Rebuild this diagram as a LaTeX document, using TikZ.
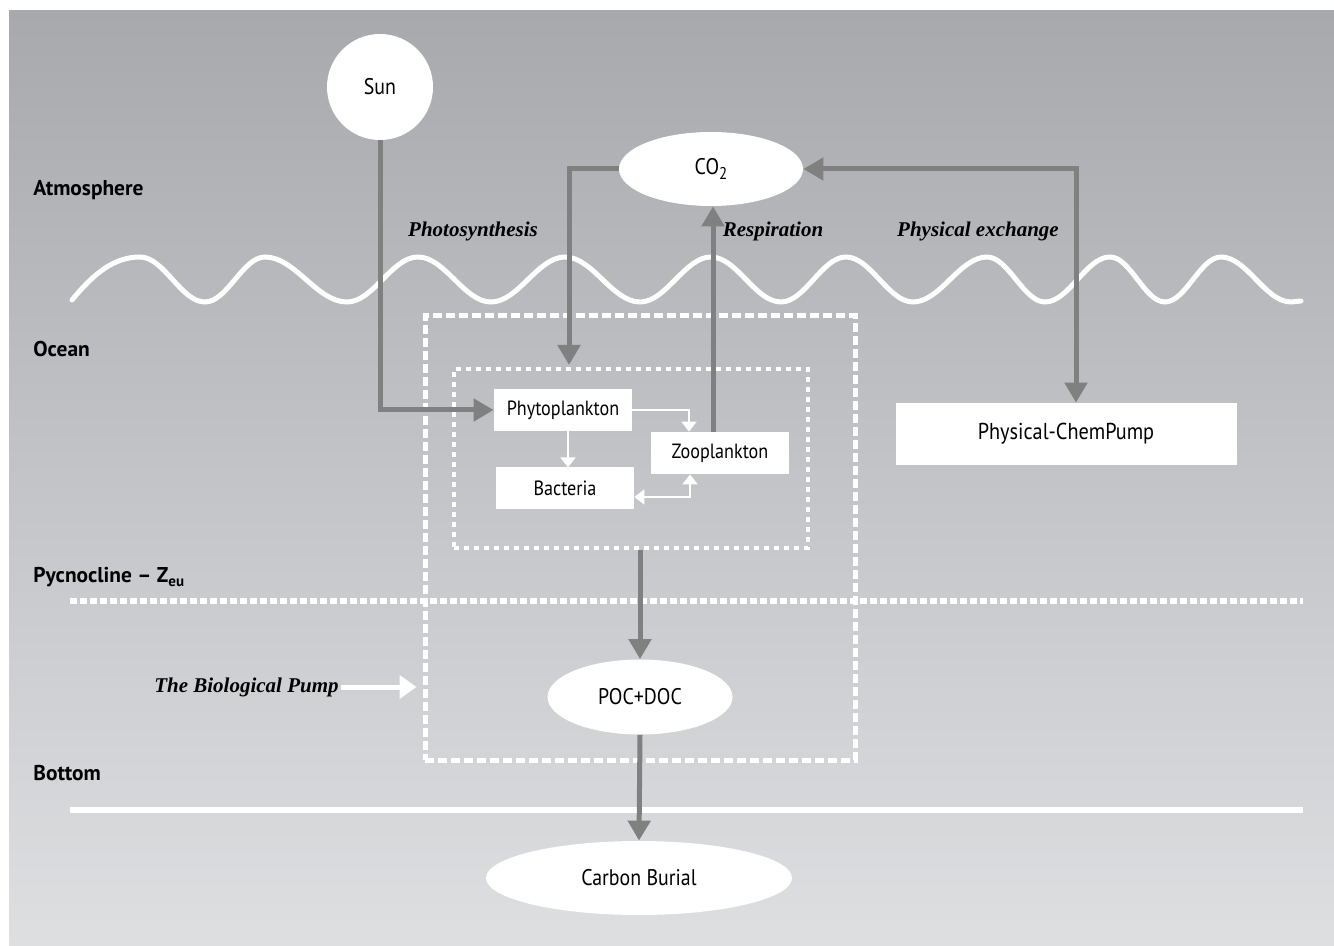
\documentclass[tikz,border=0pt]{standalone}
\usepackage{fontspec}
\newfontfamily\boxfont[FakeStretch=0.88]{PT Sans}
\newfontfamily\levelfont{PT Sans}
\newfontfamily\itfont{Liberation Serif}
\usetikzlibrary{arrows.meta,shapes.geometric,positioning}
\definecolor{pumpgray}{RGB}{128,128,128}
\definecolor{bgtop}{RGB}{168,169,173}
\definecolor{bgbot}{RGB}{222,223,225}
\tikzset{
  box/.style={fill=white, minimum width=69pt, minimum height=21pt, inner sep=0pt, font=\boxfont\fontsize{10.3}{12}\selectfont},
  oval/.style={ellipse, fill=white, minimum width=92.5pt, minimum height=37.5pt, inner sep=0pt, font=\boxfont\fontsize{11.3}{13}\selectfont},
  level/.style={anchor=west, inner sep=0pt, font=\levelfont\bfseries\fontsize{10.7}{12}\selectfont},
  process/.style={inner sep=1pt, font=\itfont\bfseries\itshape\fontsize{10.5}{12}\selectfont},
  flux/.style={draw=pumpgray, line width=2.5pt, -{Triangle[width=11pt,length=10pt]}},
  swap/.style={draw=pumpgray, line width=2.5pt, {Triangle[width=11pt,length=10pt]}-{Triangle[width=11pt,length=10pt]}},
  link/.style={draw=white, line width=1pt, -{Triangle[width=7.5pt,length=5pt]}},
  linkboth/.style={draw=white, line width=1pt, {Triangle[width=7.5pt,length=5pt]}-{Triangle[width=7.5pt,length=5pt]}},
  pumpframe/.style={draw=white, line width=2.5pt, dash pattern=on 4.5pt off 2pt},
  webframe/.style={draw=white, line width=2pt, dash pattern=on 2.5pt off 2.5pt},
}
\begin{document}
\begin{tikzpicture}[x=0.5pt,y=-0.5pt]
    \useasboundingbox (0,0) rectangle (1334,946);
    \shade[top color=bgtop, bottom color=bgbot] (9,11) rectangle (1334,946);
    % sea surface, pycnocline and sea floor
    \draw[white, line width=2.5pt, line cap=round] (72,300) .. controls (95,272) and (115,257) .. (140,257)
      foreach \d/\x/\y in {65/205/302, 60/265/257, 82/347/302, 71/418/257, 73/491/302,
        74/565/257, 75/640/302, 71/711/257, 70/781/302, 65/846/257, 67/913/302, 74/987/257,
        58/1045/302, 65/1110/257, 55/1165/302, 56/1221/257, 70/1291/302}
      { .. controls +(0.37*\d,0) and +(-0.37*\d,0) .. (\x,\y) } -- (1301,301);
    \draw[white, line width=2.5pt, dash pattern=on 3.5pt off 1.5pt] (70,601) -- (1303,601);
    \draw[white, line width=3pt] (70,810) -- (1303,810);
    % layers
    \node[level] (atm) at (33,190) {Atmosphere};
    \node[level] (ocean) at (33,349) {Ocean};
    \node[level] (pyc) at (33,577) {Pycnocline – Z\raisebox{-0.35ex}{\fontsize{7.5}{8}\selectfont eu}};
    \node[level] (bottom) at (33,773) {Bottom};
    % frames
    \node[pumpframe, minimum width=215pt, minimum height=222pt] (pump) at (640,538) {};
    \node[webframe, minimum width=177pt, minimum height=89.5pt] (web) at (631,458.5) {};
    % nodes
    \node[oval, circle, minimum size=53pt] (sun) at (380,87) {Sun};
    \node[oval, minimum width=92pt, minimum height=37pt] (co2) at (711,169) {CO\raisebox{-0.4ex}{\fontsize{8.5}{9}\selectfont 2}};
    \node[box] (phyto) at (563,410) {Phytoplankton};
    \node[box] (zoo) at (720,453) {Zooplankton};
    \node[box] (bact) at (565,488) {Bacteria};
    \node[box, minimum width=170.5pt, minimum height=31pt, font=\boxfont\fontsize{11.5}{13}\selectfont] (pcp) at (1066,434) {Physical-ChemPump};
    \node[oval] (poc) at (640,697) {POC+DOC};
    \node[oval, minimum width=153pt, minimum height=37pt] (burial) at (639,878) {Carbon Burial};
    % processes
    \node[process] (photo) at (473,231) {Photosynthesis};
    \node[process] (resp) at (773,231) {Respiration};
    \node[process] (phys) at (978,231) {Physical exchange};
    \node[process, anchor=east] (biolbl) at (341,687) {The Biological Pump};
    % carbon fluxes
    \coordinate (co2drop) at (569,365);
    \coordinate (respfoot) at (713,432);
    \draw[flux] (sun.south) |- (phyto.west);
    \draw[flux] (co2.west) -| (co2drop);
    \draw[flux] (respfoot) -- (respfoot |- co2.south);
    \draw[swap] (co2.east) -| ([xshift=5pt]pcp.north);
    \draw[flux] (poc.north |- web.south) -- (poc.north);
    \draw[flux] (poc.south) -- (burial.north);
    % food web
    \draw[link] (phyto.east) -| ([xshift=-15.5pt]zoo.north);
    \draw[link] (phyto.south) ++(2.5pt,0) -- ++(0,-18pt);
    \draw[linkboth] ([yshift=-4.5pt]bact.east) -| ([xshift=-15pt]zoo.south);
    \draw[white, line width=2.5pt, -{Triangle[width=11.5pt,length=8.5pt]}, shorten >=3pt] (biolbl.east) -- (pump.west |- biolbl.east);
\end{tikzpicture}
\end{document}
